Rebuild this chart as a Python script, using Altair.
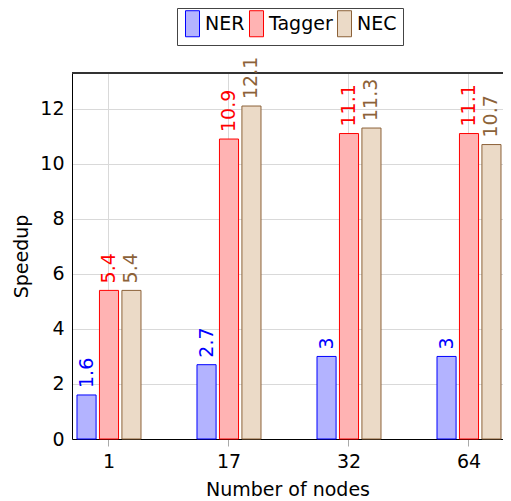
import altair as alt
import pandas as pd

nodes = ["1", "17", "32", "64"]
series = ["NER", "Tagger", "NEC"]
ner = [1.6, 2.7, 3, 3]
tagger = [5.4, 10.9, 11.1, 11.1]
nec = [5.4, 12.1, 11.3, 10.7]
y_ticks = [0, 2, 4, 6, 8, 10, 12]

fills = ["#b3b3ff", "#ffb3b3", "#ebdac7"]
strokes = ["#0000ff", "#ff0000", "#8c6239"]

rows = []
for s, vals in zip(series, [ner, tagger, nec]):
    for n, v in zip(nodes, vals):
        rows.append({"nodes": n, "series": s, "value": v, "label": f"{v:g}"})
df = pd.DataFrame(rows)

FONT = "DejaVu Sans"
FS = 19
W, H = 431, 366

x = alt.X(
    "nodes:N", sort=nodes,
    scale=alt.Scale(paddingInner=0.4667, paddingOuter=0.02917, align=0.714),
    axis=alt.Axis(title="Number of nodes", labelAngle=0, grid=True, gridColor="#d9d9d9",
                  tickColor="#aaaaaa", tickSize=7, domainColor="black", labelPadding=6,
                  titlePadding=9),
)
xo = alt.XOffset("series:N", sort=series, scale=alt.Scale(paddingInner=0.15, paddingOuter=0))
y = alt.Y(
    "value:Q", scale=alt.Scale(domain=[0, 13.3], nice=False),
    axis=alt.Axis(title="Speedup", values=y_ticks, grid=True, gridColor="#d9d9d9", ticks=False,
                  labelPadding=8, domainColor="black", titlePadding=8),
)

leg = alt.Legend(
    orient="none", legendX=105, legendY=-65, direction="horizontal", title=None,
    strokeColor="#444444", padding=6, symbolType="M-1,-1.86L1,-1.86L1,1.86L-1,1.86Z",
    symbolSize=196, labelFontSize=FS, labelOffset=3, columnPadding=2, symbolStrokeWidth=1,
    labelFont=FONT, labelColor="black",
)

top = alt.Chart().mark_rule(color="#333333", strokeWidth=1).encode(
    x=alt.value(0), x2=alt.value(W), y=alt.value(0)
)

bars = alt.Chart().mark_bar(strokeWidth=1, opacity=1).encode(
    x=x, xOffset=xo, y=y,
    fill=alt.Fill("series:N", sort=series, scale=alt.Scale(domain=series, range=fills), legend=leg),
    stroke=alt.Stroke("series:N", sort=series, scale=alt.Scale(domain=series, range=strokes), legend=leg),
)

labels = alt.Chart().mark_text(angle=270, align="left", baseline="middle", dx=7, fontSize=FS, font=FONT).encode(
    x=x, xOffset=xo, y=y, text="label:N",
    color=alt.Color("series:N", sort=series, scale=alt.Scale(domain=series, range=strokes), legend=None),
)

chart = alt.layer(top, bars, labels, data=df).properties(
    width=W, height=H,
    autosize=alt.AutoSizeParams(type="none"),
    padding={"left": 64, "top": 65, "right": 0, "bottom": 60},
).configure_view(stroke=None).configure_axis(
    labelFont=FONT, titleFont=FONT, labelFontSize=FS, titleFontSize=FS,
    labelColor="black", titleColor="black", titleFontWeight="normal",
).configure_legend(labelFont=FONT)

chart.save("out.html", embed_options={"renderer": "svg", "actions": False})
